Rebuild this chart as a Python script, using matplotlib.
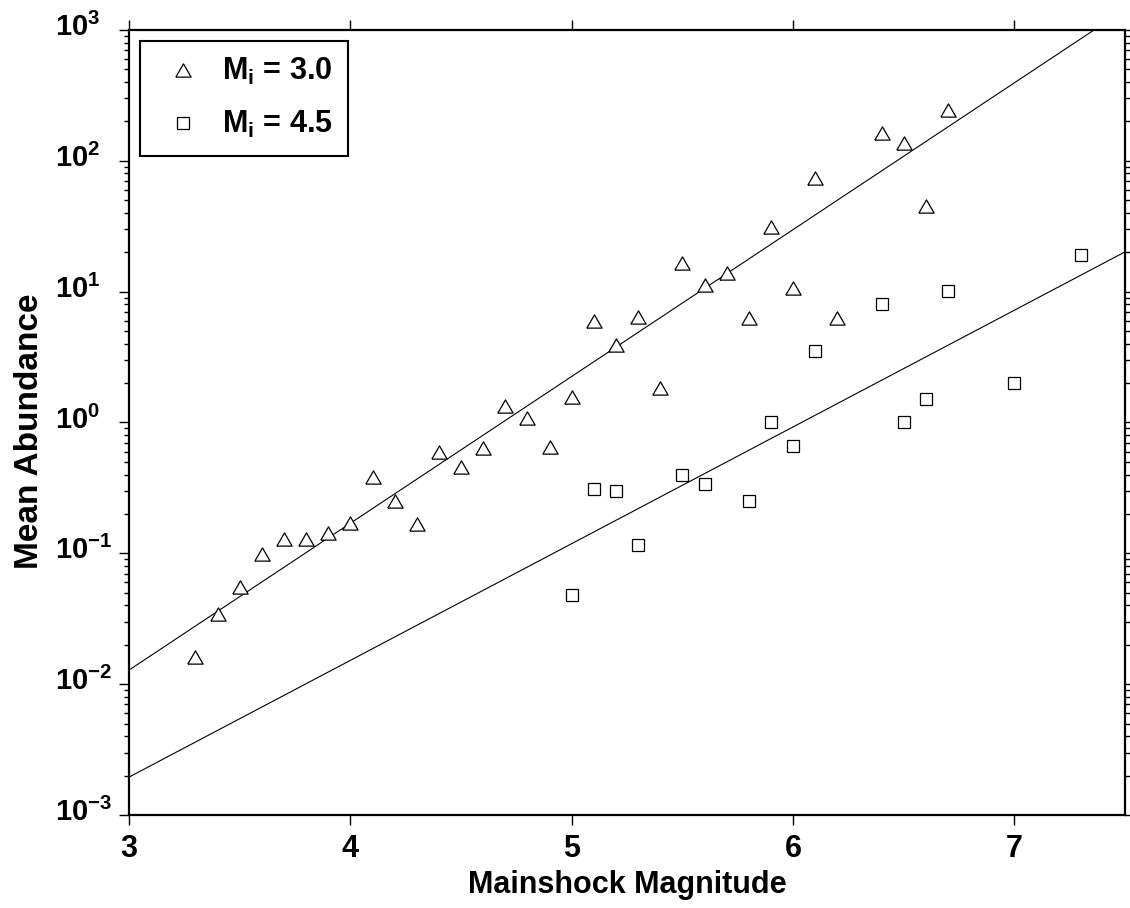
import matplotlib
matplotlib.use("Agg")
import matplotlib.pyplot as plt
import matplotlib.transforms as mtransforms
import numpy as np

plt.rcParams['font.family'] = ['Liberation Sans', 'DejaVu Sans']
plt.rcParams['font.weight'] = 'bold'
plt.rcParams['mathtext.fontset'] = 'custom'
plt.rcParams['mathtext.rm'] = 'Liberation Sans:bold'
plt.rcParams['mathtext.it'] = 'Liberation Sans:bold'
plt.rcParams['mathtext.bf'] = 'Liberation Sans:bold'
plt.rcParams['mathtext.default'] = 'bf'

# Mi = 3.0 (triangles)
mag_30 = [3.3, 3.4, 3.5, 3.6, 3.7, 3.8, 3.9, 4.0, 4.1, 4.2, 4.3, 4.4, 4.5, 4.6, 4.7,
          4.8, 4.9, 5.0, 5.1, 5.2, 5.3, 5.4, 5.5, 5.6, 5.7, 5.8, 5.9, 6.0, 6.1, 6.2,
          6.4, 6.5, 6.6, 6.7]
abund_30 = [0.0161, 0.0344, 0.0553, 0.099, 0.128, 0.128, 0.143, 0.17, 0.383, 0.251,
            0.168, 0.594, 0.457, 0.638, 1.34, 1.08, 0.65, 1.57, 5.97, 3.91, 6.4, 1.84,
            16.6, 11.3, 13.9, 6.3, 31.2, 10.7, 74.0, 6.3, 163.0, 137.0, 45.0, 245.0]

# Mi = 4.5 (squares)
mag_45 = [5.0, 5.1, 5.2, 5.3, 5.5, 5.6, 5.8, 5.9, 6.0, 6.1, 6.4, 6.5, 6.6, 6.7, 7.0, 7.3]
abund_45 = [0.048, 0.31, 0.30, 0.116, 0.40, 0.34, 0.25, 1.0, 0.66, 3.5, 8.0, 1.0,
            1.51, 10.1, 2.0, 19.0]

# fitted lines: log10(N) = a + b*(M - 3)
fit_30 = (-1.892, 1.122)
fit_45 = (-2.71, 0.892)

fig = plt.figure(figsize=(11.3, 9.08), dpi=100)
ax = fig.add_axes([0.1142, 0.1024, 0.8814, 0.8646])

tri = [(-1, -0.866), (1, -0.866), (0, 0.866), (-1, -0.866)]

m = np.array([3.0, 7.5])
ax.plot(m, 10 ** (fit_30[0] + fit_30[1] * (m - 3)), color='black', lw=0.8)
ax.plot(m, 10 ** (fit_45[0] + fit_45[1] * (m - 3)), color='black', lw=0.8)

ax.plot(mag_30, abund_30, linestyle='none', marker=tri, ms=11, mfc='white',
        mec='black', mew=0.9, label=r'$M_i$ = 3.0')
ax.plot(mag_45, abund_45, linestyle='none', marker='s', ms=8.6, mfc='white',
        mec='black', mew=0.9, label=r'$M_i$ = 4.5')

ax.set_yscale('log')
ax.set_xlim(3, 7.5)
ax.set_ylim(1e-3, 1e3)

ax.set_xticks([3, 4, 5, 6, 7])
ax.set_xticklabels(['3', '4', '5', '6', '7'])
exps = [-3, -2, -1, 0, 1, 2, 3]
ax.set_yticks([10.0 ** e for e in exps])
ax.set_yticklabels([r'$10^{%d}$' % e for e in exps])

for s in ax.spines.values():
    s.set_linewidth(1.6)

ax.tick_params(axis='both', which='major', direction='out', length=7, width=1.0,
               top=True, right=True)
ax.tick_params(axis='x', which='major', pad=6.5, labelsize=22)
ax.tick_params(axis='y', which='major', pad=46, labelsize=21)
ax.tick_params(axis='y', which='minor', direction='out', length=3.5, width=1.0,
               left=True, right=True)
ax.tick_params(axis='x', which='minor', bottom=False, top=False)

# labels start at the same x; keep the "10" centred on the tick
up = mtransforms.ScaledTranslation(0, 4 / 72, fig.dpi_scale_trans)
for lab in ax.get_yticklabels():
    lab.set_horizontalalignment('left')
    lab.set_transform(lab.get_transform() + up)

ax.set_xlabel('Mainshock Magnitude', fontsize=22, fontweight='bold', labelpad=4.5)
ax.set_ylabel('Mean Abundance', fontsize=24, fontweight='bold')
ax.yaxis.set_label_coords(-0.0843, 0.489)

leg = ax.legend(loc='upper left', bbox_to_anchor=(0.011, 0.986), fontsize=22,
                frameon=True, fancybox=False, edgecolor='black', framealpha=1,
                borderaxespad=0, handletextpad=0.37, labelspacing=0.72,
                borderpad=0.5, handlelength=1.8)
leg.get_frame().set_linewidth(1.5)

fig.savefig('out.png', dpi=100)
